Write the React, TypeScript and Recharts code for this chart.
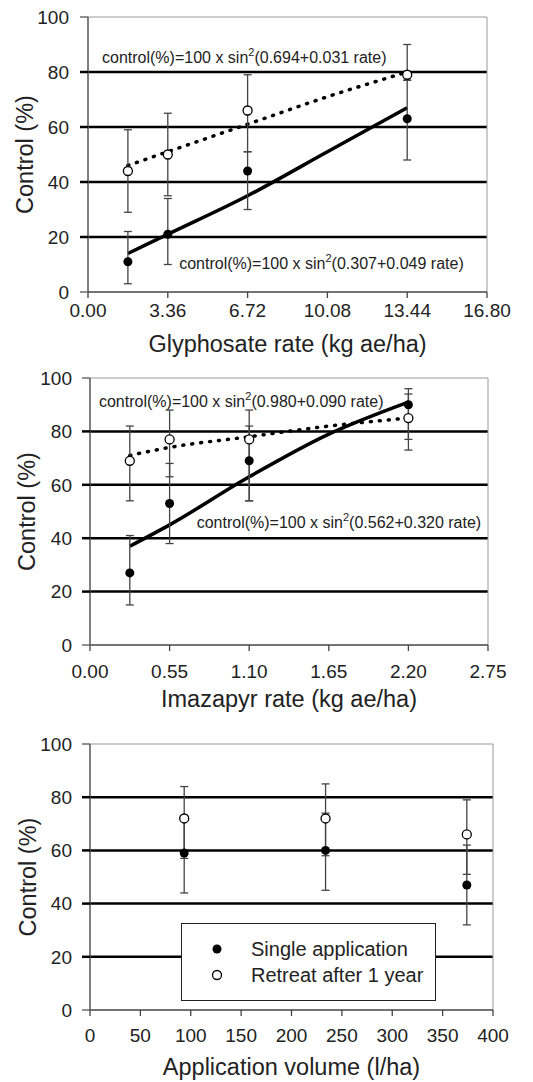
import React from "react";
import {
  CartesianGrid,
  ComposedChart,
  ErrorBar,
  Legend,
  Line,
  ReferenceDot,
  ReferenceLine,
  Scatter,
  XAxis,
  YAxis,
} from "recharts";

const FONT = "'Liberation Sans', Arial, Helvetica, sans-serif";

// glyphosate panel
const glyRates = [1.68, 3.36, 6.72, 13.44];
const glySingle = [11, 21, 44, 63];
const glySingleLow = [3, 10, 30, 48];
const glySingleHigh = [22, 34, 51, 77];
const glyRetreat = [44, 50, 66, 79];
const glyRetreatLow = [29, 35, 51, 77];
const glyRetreatHigh = [59, 65, 79, 90];
const glyFitRates = [1.68, 3.36, 6.72, 10.08, 13.44];
const glyFitSingle = [14, 21, 35, 51, 67];
const glyFitRetreat = [46, 51, 61, 71, 80];
const glyTicks = [0, 3.36, 6.72, 10.08, 13.44, 16.8];

// imazapyr panel
const imaRates = [0.275, 0.55, 1.1, 2.2];
const imaSingle = [27, 53, 69, 90];
const imaSingleLow = [15, 38, 54, 77];
const imaSingleHigh = [41, 68, 82, 96];
const imaRetreat = [69, 77, 77, 85];
const imaRetreatLow = [54, 63, 54, 73];
const imaRetreatHigh = [82, 88, 88, 94];
const imaFitRates = [0.275, 0.55, 1.1, 1.65, 2.2];
const imaFitSingle = [37, 45, 63, 79, 91];
const imaFitRetreat = [71, 74, 78, 82, 85];
const imaTicks = [0, 0.55, 1.1, 1.65, 2.2, 2.75];

// application volume panel
const volumes = [93.5, 233.8, 374];
const volSingle = [59, 60, 47];
const volSingleLow = [44, 45, 32];
const volSingleHigh = [73, 74, 62];
const volRetreat = [72, 72, 66];
const volRetreatLow = [57, 58, 51];
const volRetreatHigh = [84, 85, 79];
const volTicks = [0, 50, 100, 150, 200, 250, 300, 350, 400];

const yTicks = [0, 20, 40, 60, 80, 100];
const gridValues = [20, 40, 60, 80];
const seriesNames = ["Single application", "Retreat after 1 year"];

const points = (xs: number[], ys: number[], lo: number[], hi: number[]) =>
  xs.map((x, i) => ({ x, y: ys[i], err: [ys[i] - lo[i], hi[i] - ys[i]] }));
const curve = (xs: number[], ys: number[]) => xs.map((x, i) => ({ x, y: ys[i] }));

const filledDot = (p: any) => <circle cx={p.cx} cy={p.cy} r={4.5} fill="#000" />;
const openDot = (p: any) => (
  <circle cx={p.cx} cy={p.cy} r={4.5} fill="#fff" stroke="#000" strokeWidth={1.3} />
);

const eqLabel = (coef: string) => (props: any) => {
  const { x, y } = props.viewBox;
  return (
    <text x={x} y={y} fontSize={16} fill="#222" fontFamily={FONT}>
      control(%)=100 x sin
      <tspan dy={-7} fontSize={11}>
        2
      </tspan>
      <tspan dy={7}>{coef}</tspan>
    </text>
  );
};

function YTick(props: any) {
  const { x, y, payload, m } = props;
  const grid = payload.value > 0 && payload.value < 100;
  return (
    <g>
      <line
        x1={x + m}
        x2={x + m + 8}
        y1={y}
        y2={y}
        stroke={grid ? "#000" : "#555"}
        strokeWidth={grid ? 2.5 : 1.3}
      />
      <text x={x} y={y} dy={6.7} textAnchor="end" fontSize={19} fill="#222" fontFamily={FONT}>
        {payload.value}
      </text>
    </g>
  );
}

function LegendBox() {
  return (
    <div
      style={{
        position: "relative",
        width: 255,
        height: 78,
        boxSizing: "border-box",
        border: "1.5px solid #222",
        background: "#fff",
        fontFamily: FONT,
        fontSize: 20,
        color: "#222",
      }}
    >
      {seriesNames.map((name, i) => (
        <div key={name} style={{ position: "absolute", left: 0, top: i === 0 ? 12 : 38, height: 26 }}>
          <svg width={60} height={26} style={{ position: "absolute", left: 0, top: 0 }}>
            {i === 0 ? (
              <circle cx={35} cy={13} r={4.5} fill="#000" />
            ) : (
              <circle cx={35} cy={13} r={4.5} fill="#fff" stroke="#000" strokeWidth={1.3} />
            )}
          </svg>
          <span style={{ position: "absolute", left: 69, top: 1, whiteSpace: "nowrap", lineHeight: "24px" }}>
            {name}
          </span>
        </div>
      ))}
    </div>
  );
}

type PanelProps = {
  top: number;
  height: number;
  plotTop: number;
  plotBottom: number;
  right: number;
  yWidth: number;
  yTickMargin: number;
  xTickMargin: number;
  titleDy: number;
  yTitleX: number;
  domain: [number, number];
  ticks: number[];
  fmt: (v: number) => string;
  title: string;
  single: any[];
  retreat: any[];
  fitSingle?: any[];
  fitRetreat?: any[];
  notes?: { x: number; y: number; coef: string }[];
  legend?: boolean;
};

function Panel(p: PanelProps) {
  const xTitle = (props: any) => {
    const vb = props.viewBox;
    return (
      <text
        x={vb.x + vb.width / 2}
        y={p.plotBottom + p.titleDy}
        textAnchor="middle"
        fontSize={23.5}
        fill="#222"
        fontFamily={FONT}
      >
        {p.title}
      </text>
    );
  };
  const yTitle = (props: any) => {
    const vb = props.viewBox;
    const cy = vb.y + vb.height / 2;
    return (
      <text
        x={p.yTitleX}
        y={cy}
        dy={8.3}
        transform={`rotate(-90 ${p.yTitleX} ${cy})`}
        textAnchor="middle"
        fontSize={23.5}
        fill="#222"
        fontFamily={FONT}
      >
        Control (%)
      </text>
    );
  };

  return (
    <div style={{ position: "absolute", left: 0, top: p.top }}>
      <ComposedChart
        width={533}
        height={p.height}
        margin={{ top: p.plotTop, right: p.right, bottom: 0, left: 0 }}
      >
        <CartesianGrid
          vertical={false}
          horizontalValues={gridValues}
          stroke="#000"
          strokeWidth={2.5}
        />
        <XAxis
          type="number"
          dataKey="x"
          domain={p.domain}
          ticks={p.ticks}
          interval={0}
          allowDataOverflow
          tickFormatter={p.fmt}
          height={p.height - p.plotBottom}
          tickSize={6}
          tickMargin={p.xTickMargin}
          axisLine={{ stroke: "#444", strokeWidth: 1.5 }}
          tickLine={{ stroke: "#444", strokeWidth: 1.3 }}
          tick={{ fontSize: 19, fill: "#222", fontFamily: FONT }}
          label={xTitle}
        />
        <YAxis
          type="number"
          dataKey="y"
          domain={[0, 100]}
          ticks={yTicks}
          interval={0}
          allowDataOverflow
          width={p.yWidth}
          tickSize={8}
          tickMargin={p.yTickMargin}
          tickLine={false}
          axisLine={{ stroke: "#555", strokeWidth: 1.5 }}
          tick={(tp: any) => <YTick {...tp} m={p.yTickMargin} />}
          label={yTitle}
        />
        <ReferenceLine y={100} stroke="#999" strokeWidth={1} />
        <ReferenceLine x={p.domain[1]} stroke="#999" strokeWidth={1} />
        {p.fitSingle && (
          <Line
            data={p.fitSingle}
            dataKey="y"
            type="monotone"
            stroke="#000"
            strokeWidth={3.5}
            dot={false}
            activeDot={false}
            legendType="none"
            isAnimationActive={false}
          />
        )}
        {p.fitRetreat && (
          <Line
            data={p.fitRetreat}
            dataKey="y"
            type="monotone"
            stroke="#000"
            strokeWidth={3.5}
            strokeDasharray="1 8"
            strokeLinecap="round"
            dot={false}
            activeDot={false}
            legendType="none"
            isAnimationActive={false}
          />
        )}
        <Scatter
          name={seriesNames[0]}
          data={p.single}
          fill="#000"
          shape={filledDot}
          isAnimationActive={false}
        >
          <ErrorBar dataKey="err" direction="y" width={4} stroke="#444" strokeWidth={1.3} isAnimationActive={false} />
        </Scatter>
        <Scatter
          name={seriesNames[1]}
          data={p.retreat}
          fill="#fff"
          shape={openDot}
          isAnimationActive={false}
        >
          <ErrorBar dataKey="err" direction="y" width={4} stroke="#444" strokeWidth={1.3} isAnimationActive={false} />
        </Scatter>
        {(p.notes || []).map((n) => (
          <ReferenceDot
            key={n.coef}
            x={n.x}
            y={n.y}
            r={0}
            fill="none"
            stroke="none"
            label={eqLabel(n.coef)}
          />
        ))}
        {p.legend && (
          <Legend
            layout="vertical"
            align="center"
            verticalAlign="middle"
            wrapperStyle={{ left: 181, top: 208, width: 255, height: 78 }}
            content={() => <LegendBox />}
          />
        )}
      </ComposedChart>
    </div>
  );
}

export default function App() {
  return (
    <div
      style={{
        position: "absolute",
        left: 0,
        top: 0,
        width: 533,
        height: 1082,
        background: "#fff",
        overflow: "hidden",
      }}
    >
      <Panel
        top={0}
        height={360}
        plotTop={17}
        plotBottom={292}
        right={46}
        yWidth={88}
        yTickMargin={11}
        xTickMargin={6}
        titleDy={60}
        yTitleX={25}
        domain={[0, 16.8]}
        ticks={glyTicks}
        fmt={(v) => v.toFixed(2)}
        title="Glyphosate rate (kg ae/ha)"
        single={points(glyRates, glySingle, glySingleLow, glySingleHigh)}
        retreat={points(glyRates, glyRetreat, glyRetreatLow, glyRetreatHigh)}
        fitSingle={curve(glyFitRates, glyFitSingle)}
        fitRetreat={curve(glyFitRates, glyFitRetreat)}
        notes={[
          { x: 0.59, y: 83.3, coef: "(0.694+0.031 rate)" },
          { x: 3.84, y: 8.4, coef: "(0.307+0.049 rate)" },
        ]}
      />
      <Panel
        top={360}
        height={355}
        plotTop={18}
        plotBottom={285}
        right={45}
        yWidth={90}
        yTickMargin={10}
        xTickMargin={14}
        titleDy={62}
        yTitleX={27}
        domain={[0, 2.75]}
        ticks={imaTicks}
        fmt={(v) => v.toFixed(2)}
        title="Imazapyr rate (kg ae/ha)"
        single={points(imaRates, imaSingle, imaSingleLow, imaSingleHigh)}
        retreat={points(imaRates, imaRetreat, imaRetreatLow, imaRetreatHigh)}
        fitSingle={curve(imaFitRates, imaFitSingle)}
        fitRetreat={curve(imaFitRates, imaFitRetreat)}
        notes={[
          { x: 0.062, y: 89.3, coef: "(0.980+0.090 rate)" },
          { x: 0.737, y: 43.8, coef: "(0.562+0.320 rate)" },
        ]}
      />
      <Panel
        top={715}
        height={367}
        plotTop={29}
        plotBottom={295}
        right={40}
        yWidth={90}
        yTickMargin={10}
        xTickMargin={13}
        titleDy={65}
        yTitleX={28}
        domain={[0, 400]}
        ticks={volTicks}
        fmt={(v) => String(v)}
        title="Application volume (l/ha)"
        single={points(volumes, volSingle, volSingleLow, volSingleHigh)}
        retreat={points(volumes, volRetreat, volRetreatLow, volRetreatHigh)}
        legend
      />
    </div>
  );
}
